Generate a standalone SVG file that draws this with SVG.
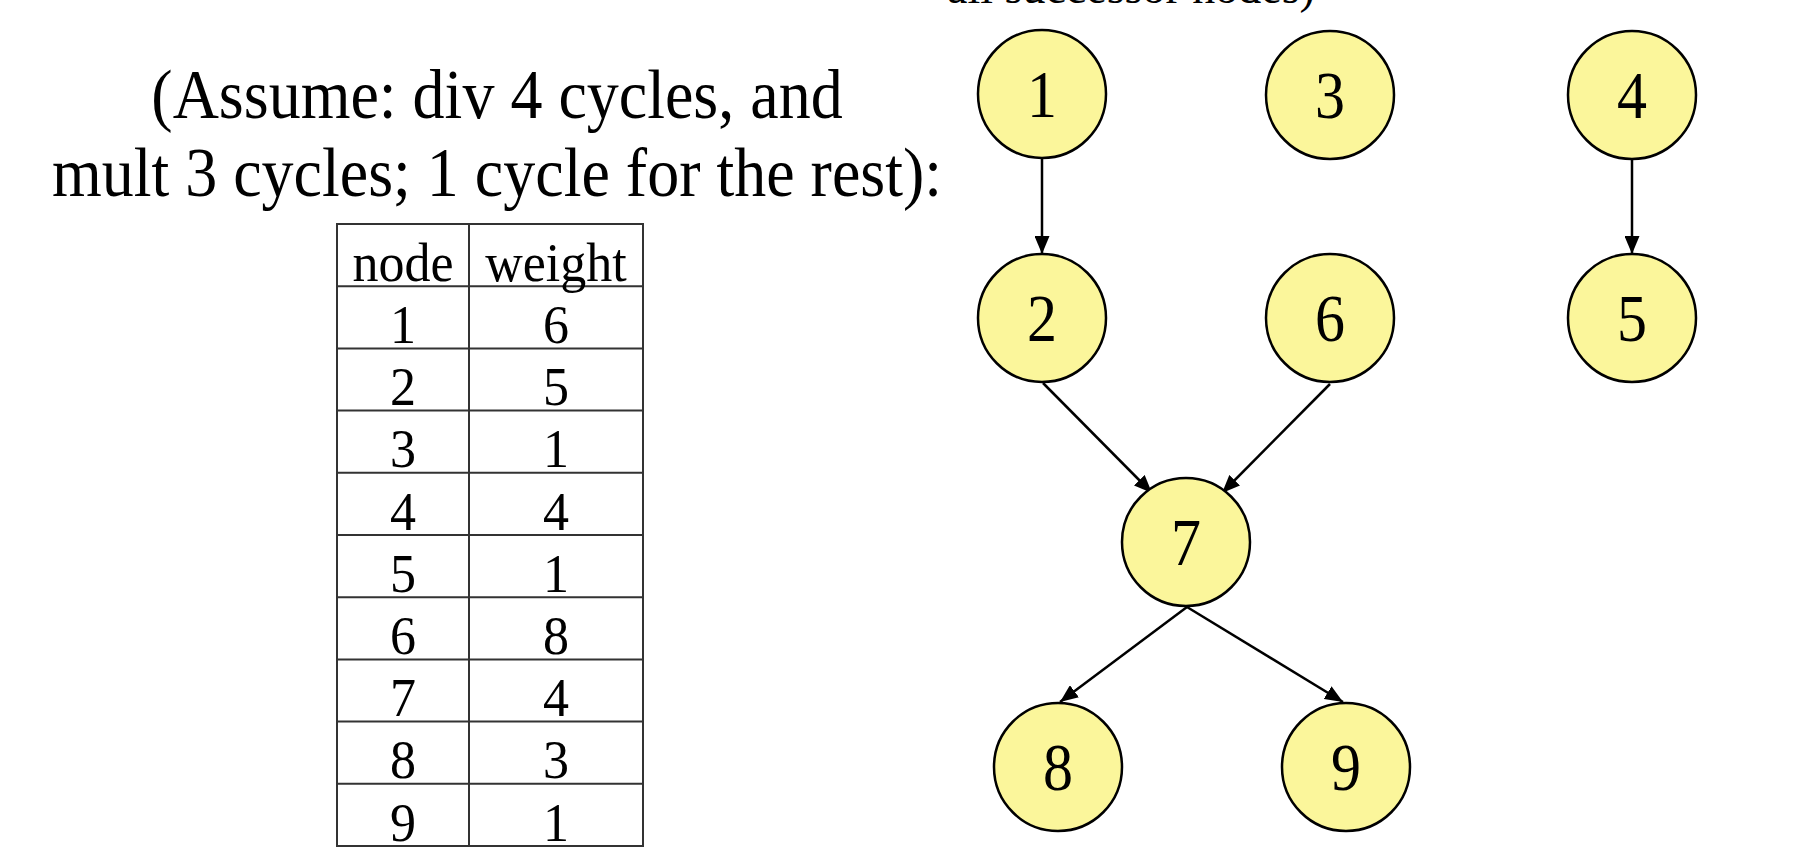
<svg xmlns="http://www.w3.org/2000/svg" width="1814" height="858" viewBox="0 0 1814 858">
  <style>
    .t { font-family: "Liberation Serif", "Times New Roman", serif; fill: #000; }
    .cap { font-size: 64px; text-anchor: middle; }
    .top { font-size: 46px; }
    .cell { font-size: 52px; text-anchor: middle; }
    .node circle { fill: #FBF69B; stroke: #000; stroke-width: 2.5; }
    .node text { font-family: "Liberation Serif", "Times New Roman", serif; font-size: 60px; text-anchor: middle; fill: #000; }
    .grid line, .grid rect { stroke: #333; stroke-width: 2; fill: none; }
    .edges line { stroke: #000; stroke-width: 2.5; marker-end: url(#arr); }
  </style>
  <defs>
    <marker id="arr" viewBox="0 0 18 15" refX="18" refY="7.5" markerWidth="18" markerHeight="15" markerUnits="userSpaceOnUse" orient="auto">
      <path d="M0,0 L18,7.5 L0,15 z" fill="#000"/>
    </marker>
  </defs>
  <rect width="1814" height="858" fill="#fff"/>

  <text class="t top" x="947" y="3">all successor nodes)</text>

  <g id="caption">
    <text class="t cap" transform="translate(497,118) scale(1,1.1)">(Assume: div 4 cycles, and</text>
    <text class="t cap" transform="translate(497,196) scale(1,1.1)">mult 3 cycles; 1 cycle for the rest):</text>
  </g>

  <g id="table">
    <g class="grid">
      <rect x="337" y="224" width="306" height="622"/>
      <line x1="469" y1="224" x2="469" y2="846"/>
      <line x1="337" y1="286.2" x2="643" y2="286.2"/>
      <line x1="337" y1="348.4" x2="643" y2="348.4"/>
      <line x1="337" y1="410.6" x2="643" y2="410.6"/>
      <line x1="337" y1="472.8" x2="643" y2="472.8"/>
      <line x1="337" y1="535" x2="643" y2="535"/>
      <line x1="337" y1="597.2" x2="643" y2="597.2"/>
      <line x1="337" y1="659.4" x2="643" y2="659.4"/>
      <line x1="337" y1="721.6" x2="643" y2="721.6"/>
      <line x1="337" y1="783.8" x2="643" y2="783.8"/>
    </g>
    <text class="t cell" transform="translate(403,281) scale(1,1.05)">node</text>
    <text class="t cell" transform="translate(556,281) scale(1,1.05)">weight</text>
    <text class="t cell" transform="translate(403,343) scale(1,1.05)">1</text><text class="t cell" transform="translate(556,343) scale(1,1.05)">6</text>
    <text class="t cell" transform="translate(403,405) scale(1,1.05)">2</text><text class="t cell" transform="translate(556,405) scale(1,1.05)">5</text>
    <text class="t cell" transform="translate(403,467) scale(1,1.05)">3</text><text class="t cell" transform="translate(556,467) scale(1,1.05)">1</text>
    <text class="t cell" transform="translate(403,530) scale(1,1.05)">4</text><text class="t cell" transform="translate(556,530) scale(1,1.05)">4</text>
    <text class="t cell" transform="translate(403,592) scale(1,1.05)">5</text><text class="t cell" transform="translate(556,592) scale(1,1.05)">1</text>
    <text class="t cell" transform="translate(403,654) scale(1,1.05)">6</text><text class="t cell" transform="translate(556,654) scale(1,1.05)">8</text>
    <text class="t cell" transform="translate(403,716) scale(1,1.05)">7</text><text class="t cell" transform="translate(556,716) scale(1,1.05)">4</text>
    <text class="t cell" transform="translate(403,778) scale(1,1.05)">8</text><text class="t cell" transform="translate(556,778) scale(1,1.05)">3</text>
    <text class="t cell" transform="translate(403,841) scale(1,1.05)">9</text><text class="t cell" transform="translate(556,841) scale(1,1.05)">1</text>
  </g>

  <g id="edges" class="edges">
    <line x1="1042" y1="159" x2="1042" y2="254"/>
    <line x1="1632" y1="159" x2="1632" y2="254"/>
    <line x1="1043" y1="383" x2="1152" y2="493"/>
    <line x1="1330" y1="384" x2="1222" y2="493"/>
    <line x1="1187" y1="607" x2="1060" y2="702"/>
    <line x1="1187" y1="607" x2="1343" y2="702"/>
  </g>

  <g id="n1" class="node"><circle cx="1042" cy="94" r="64"/><text transform="translate(1042,117) scale(1,1.12)">1</text></g>
  <g id="n3" class="node"><circle cx="1330" cy="95" r="64"/><text transform="translate(1330,118) scale(1,1.12)">3</text></g>
  <g id="n4" class="node"><circle cx="1632" cy="95" r="64"/><text transform="translate(1632,118) scale(1,1.12)">4</text></g>
  <g id="n2" class="node"><circle cx="1042" cy="318" r="64"/><text transform="translate(1042,341) scale(1,1.12)">2</text></g>
  <g id="n6" class="node"><circle cx="1330" cy="318" r="64"/><text transform="translate(1330,341) scale(1,1.12)">6</text></g>
  <g id="n5" class="node"><circle cx="1632" cy="318" r="64"/><text transform="translate(1632,341) scale(1,1.12)">5</text></g>
  <g id="n7" class="node"><circle cx="1186" cy="542" r="64"/><text transform="translate(1186,565) scale(1,1.12)">7</text></g>
  <g id="n8" class="node"><circle cx="1058" cy="767" r="64"/><text transform="translate(1058,790) scale(1,1.12)">8</text></g>
  <g id="n9" class="node"><circle cx="1346" cy="767" r="64"/><text transform="translate(1346,790) scale(1,1.12)">9</text></g>
</svg>
